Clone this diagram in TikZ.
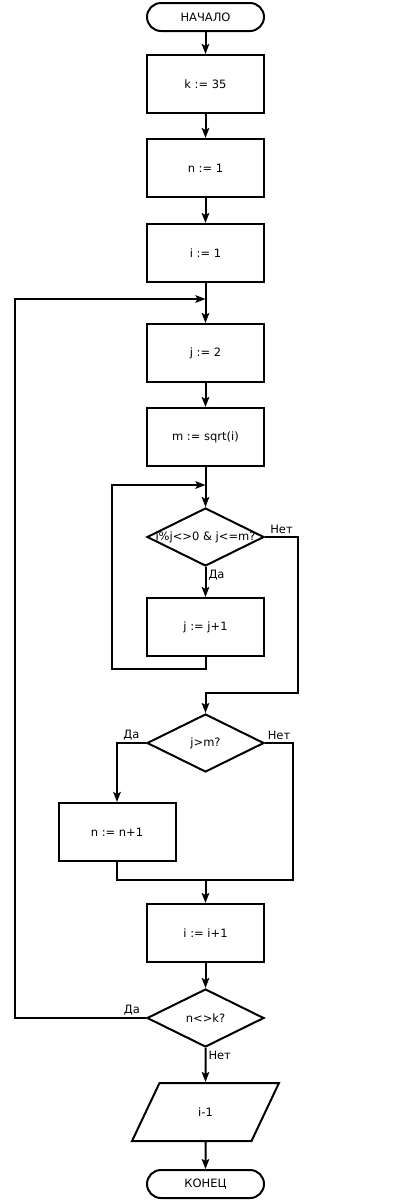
\documentclass[tikz,border=0pt]{standalone}
\usepackage{fontspec}
\setmainfont{DejaVu Sans}
\usetikzlibrary{arrows.meta, positioning, shapes.geometric, shapes.misc}

\begin{document}
\begin{tikzpicture}[
  x=1pt, y=-1pt,
  font=\fontsize{11.5}{13}\selectfont,
  term/.style={rounded rectangle, draw, line width=2pt, minimum width=117pt, minimum height=28pt, inner sep=0pt},
  proc/.style={rectangle, draw, line width=2pt, minimum width=117pt, minimum height=58pt, inner sep=0pt},
  cond/.style={diamond, draw, line width=2pt, minimum width=117pt, minimum height=58pt, inner sep=0pt},
  io/.style={trapezium, trapezium left angle=63.4, trapezium right angle=116.6, trapezium stretches=true, draw, line width=2pt, minimum width=147pt, minimum height=58pt, inner sep=0pt},
  arrow/.style={-{Stealth[length=10pt, width=7.5pt, inset=2pt]}, line width=2pt},
  line/.style={line width=2pt},
  lbl/.style={inner sep=2pt},
]
\useasboundingbox (0,0) rectangle (411,1200);

\node[term] (start) at (205.5,17)          {НАЧАЛО};
\node[proc] (setk)  [below=22pt of start]  {k := 35};
\node[proc] (setn)  [below=24pt of setk]   {n := 1};
\node[proc] (seti)  [below=25pt of setn]   {i := 1};
\node[proc] (setj)  [below=40pt of seti]   {j := 2};
\node[proc] (setm)  [below=24pt of setj]   {m := sqrt(i)};
\node[cond, label={center:i\%j<>0 \& j<=m?}] (cond1) [below=40pt of setm] {};
\node[proc] (incj)  [below=30pt of cond1]  {j := j+1};
\node[cond, label={center:j>m?}] (cond2) [below=56pt of incj] {};
\node[proc] (incn)  at (117,832)           {n := n+1};
\node[proc] (inci)  [below=130pt of cond2] {i := i+1};
\node[cond, label={center:n<>k?}] (cond3) [below=25pt of inci] {};
\node[io]   (out)   [below=34pt of cond3]  {i-1};
\node[term] (stop)  [below=27pt of out]    {КОНЕЦ};

% junction points of the loops
\coordinate (mergeA) at (205.5,299);
\coordinate (loopL)  at (15,299);
\coordinate (mergeB) at (205.5,485);
\coordinate (loopB)  at (112,669);
\coordinate (exitA)  at (298,693);
\coordinate (exitB)  at (293,880);
\coordinate (mergeC) at (205.5,880);

\draw[arrow] (start) -- (setk);
\draw[arrow] (setk)  -- (setn);
\draw[arrow] (setn)  -- (seti);
\draw[arrow] (seti)  -- (setj);
\draw[arrow] (setj)  -- (setm);
\draw[arrow] (setm)  -- (cond1);
\draw[arrow] (cond1) -- node[lbl, below right, pos=0] {Да} (incj);
\draw[arrow] (incj.south) |- (loopB) |- (mergeB);
\draw[arrow] (cond1.east) -| node[lbl, above, pos=0.25] {Нет} (exitA) -| (cond2.north);
\draw[arrow] (cond2.west) -| node[lbl, above, pos=0.25] {Да} (incn.north);
\draw[line]  (cond2.east) -| node[lbl, above, pos=0.25] {Нет} (exitB) -- (mergeC);
\draw[line]  (incn.south) |- (mergeC);
\draw[arrow] (mergeC) -- (inci.north);
\draw[arrow] (inci)  -- (cond3);
\draw[arrow] (cond3.west) -| node[lbl, above left, pos=0, xshift=-3pt] {Да} (loopL) -- (mergeA);
\draw[arrow] (cond3) -- node[lbl, below right, pos=0] {Нет} (out);
\draw[arrow] (out)   -- (stop);
\end{tikzpicture}
\end{document}
